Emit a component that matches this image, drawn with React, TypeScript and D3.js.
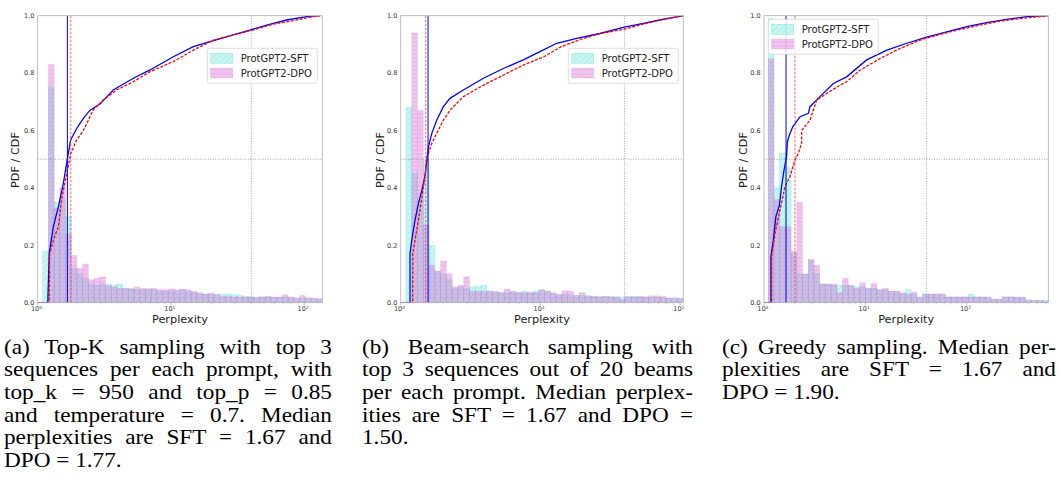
import React from 'react';
import * as d3 from 'd3';

// ---------------- DATA ----------------
const yTicks = [0, 0.2, 0.4, 0.6, 0.8, 1.0];
const legendLabels = ['ProtGPT2-SFT', 'ProtGPT2-DPO'];
const refPerplexity = 40;
const refCdf = 0.5;

// Panel (a) Top-K
const xMaxA = 136.4;
const binLoA = 1.09;
const sftHistA = [0.18, 0.75, 0.35, 0.36, 0.30, 0.12, 0.10, 0.085, 0.065, 0.06, 0.065, 0.065, 0.06, 0.065, 0.05, 0.05, 0.045, 0.045, 0.045, 0.045, 0.04, 0.04, 0.04, 0.04, 0.045, 0.04, 0.035, 0.03, 0.03, 0.028, 0.025, 0.028, 0.03, 0.028, 0.025, 0.022, 0.02, 0.02, 0.02, 0.02, 0.018, 0.018, 0.02, 0.015, 0.017, 0.015, 0.015, 0.015, 0.012];
const dpoHistA = [0, 0.83, 0.33, 0.40, 0.24, 0.165, 0.12, 0.135, 0.08, 0.085, 0.09, 0.06, 0.055, 0.05, 0.05, 0.048, 0.055, 0.05, 0.05, 0.05, 0.045, 0.045, 0.048, 0.045, 0.047, 0.045, 0.04, 0.035, 0.03, 0.033, 0.03, 0.022, 0.022, 0.02, 0.02, 0.02, 0.02, 0.018, 0.02, 0.022, 0.02, 0.02, 0.028, 0.02, 0.015, 0.025, 0.018, 0.015, 0.015];
const sftCdfA: [number, number][] = [[1, 0], [1.19, 0], [1.22, 0.17], [1.31, 0.265], [1.43, 0.335], [1.557, 0.416], [1.68, 0.509], [1.767, 0.567], [1.96, 0.607], [2.2, 0.642], [2.47, 0.671], [2.93, 0.692], [3.69, 0.741], [5.22, 0.782], [6.96, 0.811], [10.4, 0.857], [14.7, 0.892], [18.5, 0.906], [29.3, 0.933], [39.1, 0.95], [52.2, 0.967], [73.7, 0.985], [104, 0.997], [131, 1.0]];
const dpoCdfA: [number, number][] = [[1, 0], [1.22, 0], [1.23, 0.17], [1.31, 0.218], [1.43, 0.265], [1.51, 0.358], [1.65, 0.45], [1.77, 0.52], [1.96, 0.567], [2.2, 0.6], [2.4, 0.636], [2.6, 0.671], [3.1, 0.706], [3.9, 0.741], [5.22, 0.77], [6.96, 0.805], [10.4, 0.84], [14.7, 0.88], [20.8, 0.915], [29.3, 0.933], [41, 0.95], [58.6, 0.971], [83, 0.983], [117, 0.997], [134, 1.0]];
const medianSftA = 1.67;
const medianDpoA = 1.77;

// Panel (b) Beam search
const xMaxB = 105.6;
const binLoB = 1.09;
const sftHistB = [0.68, 0.45, 0.36, 0.50, 0.20, 0.11, 0.10, 0.08, 0.05, 0.055, 0.05, 0.055, 0.056, 0.06, 0.04, 0.035, 0.035, 0.035, 0.038, 0.035, 0.04, 0.035, 0.04, 0.045, 0.04, 0.03, 0.028, 0.028, 0.025, 0.026, 0.025, 0.025, 0.023, 0.022, 0.022, 0.022, 0.02, 0.02, 0.022, 0.022, 0.02, 0.02, 0.018, 0.018, 0.017, 0.016, 0.017, 0.016];
const dpoHistB = [0, 0.94, 0.67, 0.27, 0.13, 0.11, 0.145, 0.10, 0.055, 0.06, 0.09, 0.04, 0.04, 0.04, 0.04, 0.04, 0.035, 0.048, 0.04, 0.035, 0.035, 0.035, 0.035, 0.045, 0.04, 0.035, 0.028, 0.042, 0.04, 0.025, 0.035, 0.022, 0.022, 0.02, 0.022, 0.02, 0.02, 0.012, 0.02, 0.02, 0.022, 0.02, 0.024, 0.024, 0.022, 0.016, 0.015, 0.014];
const sftCdfB: [number, number][] = [[1, 0], [1.166, 0], [1.166, 0.17], [1.2, 0.218], [1.266, 0.288], [1.34, 0.346], [1.41, 0.387], [1.49, 0.439], [1.58, 0.543], [1.67, 0.59], [1.81, 0.636], [2.02, 0.683], [2.255, 0.712], [2.81, 0.741], [3.91, 0.782], [5.43, 0.816], [7.55, 0.846], [9.94, 0.875], [13.1, 0.904], [18.2, 0.921], [26.7, 0.938], [39.2, 0.959], [54.6, 0.973], [71.8, 0.985], [105.6, 1.0]];
const dpoCdfB: [number, number][] = [[1, 0], [1.219, 0], [1.22, 0.17], [1.266, 0.218], [1.34, 0.288], [1.41, 0.358], [1.49, 0.44], [1.55, 0.51], [1.67, 0.555], [1.81, 0.59], [2.02, 0.636], [2.255, 0.671], [2.81, 0.718], [3.91, 0.758], [5.43, 0.793], [7.55, 0.828], [10.6, 0.857], [14.1, 0.892], [19.6, 0.918], [26.8, 0.938], [39.2, 0.952], [54.6, 0.971], [75, 0.987], [105.6, 1.0]];
const medianSftB = 1.57;
const medianDpoB = 1.51;

// Panel (c) Greedy
const xMaxC = 638;
const binLoC = 1.1;
const sftHistC = [0.99, 0.40, 0.52, 0.47, 0.17, 0.10, 0.10, 0.15, 0.10, 0.065, 0.065, 0.06, 0.06, 0.06, 0.06, 0.055, 0.055, 0.05, 0.05, 0.045, 0.045, 0.04, 0.04, 0.03, 0.045, 0.03, 0.02, 0.03, 0.03, 0.03, 0.025, 0.02, 0.02, 0.02, 0.02, 0.03, 0.02, 0.02, 0.02, 0.012, 0.012, 0.02, 0.02, 0.02, 0.015, 0.01, 0.008, 0.008, 0.008];
const dpoHistC = [0.85, 0.36, 0.265, 0.265, 0.18, 0.35, 0.10, 0.15, 0.13, 0.065, 0.065, 0.065, 0.035, 0.085, 0.06, 0.05, 0.07, 0.05, 0.067, 0.045, 0.05, 0.04, 0.04, 0.035, 0.03, 0.037, 0.018, 0.03, 0.03, 0.03, 0.031, 0.02, 0.02, 0.02, 0.02, 0.02, 0.02, 0.02, 0.018, 0.012, 0.012, 0.02, 0.02, 0.018, 0.02, 0.008, 0.008, 0.008, 0.005];
const sftCdfC: [number, number][] = [[1, 0], [1.17, 0], [1.17, 0.16], [1.236, 0.218], [1.31, 0.3], [1.42, 0.34], [1.49, 0.404], [1.575, 0.462], [1.67, 0.509], [1.7, 0.56], [1.78, 0.584], [1.92, 0.613], [2.27, 0.648], [2.74, 0.66], [2.84, 0.683], [3.57, 0.718], [4.83, 0.764], [6.54, 0.787], [10.3, 0.846], [16.3, 0.88], [25.6, 0.904], [40.3, 0.925], [63.5, 0.944], [100, 0.962], [157, 0.976], [248, 0.987], [391, 0.997], [638, 1.0]];
const dpoCdfC: [number, number][] = [[1, 0], [1.19, 0], [1.19, 0.16], [1.284, 0.242], [1.44, 0.323], [1.61, 0.404], [1.805, 0.44], [2.02, 0.497], [2.18, 0.52], [2.35, 0.555], [2.35, 0.6], [2.84, 0.636], [3.31, 0.706], [4.16, 0.729], [5.62, 0.758], [6.54, 0.77], [8.85, 0.81], [13.96, 0.851], [22, 0.886], [34.6, 0.915], [54.6, 0.935], [85.9, 0.952], [135, 0.967], [213, 0.981], [336, 0.99], [638, 1.0]];
const medianSftC = 1.65;
const medianDpoC = 2.02;

// Captions (line by line, as typeset)
const captionA = ['(a) Top-K sampling with top 3', 'sequences per each prompt, with', 'top_k = 950 and top_p = 0.85', 'and temperature = 0.7. Median', 'perplexities are SFT = 1.67 and', 'DPO = 1.77.'];
const captionB = ['(b) Beam-search sampling with', 'top 3 sequences out of 20 beams', 'per each prompt. Median perplex-', 'ities are SFT = 1.67 and DPO =', '1.50.'];
const captionC = ['(c) Greedy sampling. Median per-', 'plexities are SFT = 1.67 and', 'DPO = 1.90.'];

// ---------------- LAYOUT ----------------
const W = 1060;
const H = 491;
const TOP = 15.7;
const BOTTOM = 302.7;

const panels = [
  { left: 37.7, right: 322.3, xMax: xMaxA, binLo: binLoA, sft: sftHistA, dpo: dpoHistA, sftCdf: sftCdfA, dpoCdf: dpoCdfA, medS: medianSftA, medD: medianDpoA, legend: { x: 207.3, y: 48.3 }, ylabX: 15, caption: captionA, capX: 4, capW: 328 },
  { left: 400.7, right: 683.3, xMax: xMaxB, binLo: binLoB, sft: sftHistB, dpo: dpoHistB, sftCdf: sftCdfB, dpoCdf: dpoCdfB, medS: medianSftB, medD: medianDpoB, legend: { x: 568.3, y: 48.3 }, ylabX: 380, caption: captionB, capX: 362, capW: 331 },
  { left: 764, right: 1048.3, xMax: xMaxC, binLo: binLoC, sft: sftHistC, dpo: dpoHistC, sftCdf: sftCdfC, dpoCdf: dpoCdfC, medS: medianSftC, medD: medianDpoC, legend: { x: 768.3, y: 19.3 }, ylabX: 743, caption: captionC, capX: 722, capW: 334 },
];

const SFT_COLOR = 'rgb(64,224,208)';
const DPO_COLOR = 'rgb(218,112,214)';
const FONT = 'DejaVu Sans, sans-serif';

function Panel({ p, idx }: { p: typeof panels[0]; idx: number }) {
  const x = d3.scaleLog().domain([1, p.xMax]).range([p.left, p.right]);
  const y = d3.scaleLinear().domain([0, 1]).range([BOTTOM, TOP]);
  const n = p.sft.length;
  const lo = Math.log10(p.binLo);
  const hi = Math.log10(p.xMax);
  const edges = d3.range(n + 1).map((i) => Math.pow(10, lo + (i * (hi - lo)) / n));
  const line = d3.line<[number, number]>().x((d) => x(d[0])).y((d) => y(d[1]));

  const majors = [];
  for (let e = 0; Math.pow(10, e) <= p.xMax; e++) majors.push(e);
  const minors: number[] = [];
  for (let e = 0; Math.pow(10, e) <= p.xMax; e++) {
    for (let m = 2; m <= 9; m++) {
      const v = m * Math.pow(10, e);
      if (v < p.xMax) minors.push(v);
    }
  }
  const clipId = `clip${idx}`;
  const bars = (vals: number[], fill: string, op: number, hatch: string, stroke: string, dash?: string) =>
    vals.map((v, i) => {
      if (v <= 0) return null;
      const x0 = x(edges[i]);
      const x1 = x(edges[i + 1]);
      const yy = y(v);
      return (
        <g key={i}>
          <rect x={x0} y={yy} width={x1 - x0} height={BOTTOM - yy} fill={fill} fillOpacity={op} />
          <rect x={x0} y={yy} width={x1 - x0} height={BOTTOM - yy} fill={`url(#${hatch})`} stroke={stroke} strokeOpacity={0.45} strokeWidth={0.5} strokeDasharray={dash} />
        </g>
      );
    });
  const lg = p.legend;
  return (
    <g>
      <defs>
        <clipPath id={clipId}>
          <rect x={p.left} y={TOP} width={p.right - p.left} height={BOTTOM - TOP} />
        </clipPath>
      </defs>
      <g clipPath={`url(#${clipId})`}>
        {bars(p.sft, SFT_COLOR, 0.3, 'hatchSft', SFT_COLOR)}
        {bars(p.dpo, DPO_COLOR, 0.4, 'hatchDpo', DPO_COLOR, '2,1')}
        <line x1={p.left} x2={p.right} y1={y(refCdf)} y2={y(refCdf)} stroke="#888" strokeWidth={0.8} strokeDasharray="1,1.5" />
        <line x1={x(refPerplexity)} x2={x(refPerplexity)} y1={TOP} y2={BOTTOM} stroke="#888" strokeWidth={0.8} strokeDasharray="1,1.5" />
        <path d={line(p.sftCdf) || ''} fill="none" stroke="#0000ff" strokeWidth={1.3} />
        <path d={line(p.dpoCdf) || ''} fill="none" stroke="#ff0000" strokeWidth={1.3} strokeDasharray="3,1.5" />
        <line x1={x(p.medS)} x2={x(p.medS)} y1={TOP} y2={BOTTOM} stroke="#0000ff" strokeWidth={1} />
        <line x1={x(p.medD)} x2={x(p.medD)} y1={TOP} y2={BOTTOM} stroke="#ff3030" strokeWidth={1} strokeOpacity={0.75} strokeDasharray="2.5,1.5" />
      </g>
      <rect x={p.left} y={TOP} width={p.right - p.left} height={BOTTOM - TOP} fill="none" stroke="#b0b0b0" strokeWidth={0.8} />
      {yTicks.map((t) => (
        <text key={t} x={p.left - 3.4} y={y(t) + 2.2} textAnchor="end" fontFamily={FONT} fontSize={6.5} fill="#333">
          {t.toFixed(1)}
        </text>
      ))}
      {majors.map((e) => (
        <g key={e}>
          <line x1={x(Math.pow(10, e))} x2={x(Math.pow(10, e))} y1={BOTTOM} y2={BOTTOM + 3} stroke="#999" strokeWidth={0.6} />
          <text x={x(Math.pow(10, e)) - 1.2} y={BOTTOM + 8.6} textAnchor="middle" fontFamily={FONT} fontSize={6.5} fill="#333">
            10
            <tspan fontSize={4.4} dy={-2.4}>
              {e}
            </tspan>
          </text>
        </g>
      ))}
      {minors.map((v) => (
        <line key={v} x1={x(v)} x2={x(v)} y1={BOTTOM} y2={BOTTOM + 1.8} stroke="#aaa" strokeWidth={0.5} />
      ))}
      <text x={(p.left + p.right) / 2} y={322.7} textAnchor="middle" fontFamily={FONT} fontSize={11.3} fill="#222">
        Perplexity
      </text>
      <text transform={`translate(${p.ylabX + 4},${160}) rotate(-90)`} textAnchor="middle" fontFamily={FONT} fontSize={11.3} fill="#222">
        PDF / CDF
      </text>
      <g>
        <rect x={lg.x} y={lg.y} width={110} height={35} rx={2} fill="#fff" fillOpacity={0.85} stroke="#d0d0d0" strokeWidth={0.7} />
        <rect x={lg.x + 3.4} y={lg.y + 5} width={22} height={10} fill={SFT_COLOR} fillOpacity={0.3} />
        <rect x={lg.x + 3.4} y={lg.y + 5} width={22} height={10} fill="url(#hatchSft)" stroke={SFT_COLOR} strokeOpacity={0.45} strokeWidth={0.6} />
        <rect x={lg.x + 3.4} y={lg.y + 20} width={22} height={9.5} fill={DPO_COLOR} fillOpacity={0.4} />
        <rect x={lg.x + 3.4} y={lg.y + 20} width={22} height={9.5} fill="url(#hatchDpo)" stroke={DPO_COLOR} strokeOpacity={0.6} strokeWidth={0.7} strokeDasharray="2,1" />
        <text x={lg.x + 33.4} y={lg.y + 13.5} fontFamily={FONT} fontSize={10} fill="#222">
          {legendLabels[0]}
        </text>
        <text x={lg.x + 33.4} y={lg.y + 28.3} fontFamily={FONT} fontSize={10} fill="#222">
          {legendLabels[1]}
        </text>
      </g>
    </g>
  );
}

const CAP_SCALE = 1.15;

export default function App() {
  return (
    <div style={{ position: 'absolute', left: 0, top: 0, width: W, height: H, background: '#fff', overflow: 'hidden' }}>
      <svg width={W} height={H} style={{ position: 'absolute', left: 0, top: 0 }}>
        <defs>
          <pattern id="hatchSft" patternUnits="userSpaceOnUse" width={6} height={6}>
            <path d="M-1,1 l2,-2 M0,6 l6,-6 M5,7 l2,-2" stroke="rgb(40,190,180)" strokeWidth={0.5} strokeOpacity={0.35} />
          </pattern>
          <pattern id="hatchDpo" patternUnits="userSpaceOnUse" width={4} height={4}>
            <path d="M0,2 h4" stroke="rgb(190,80,190)" strokeWidth={0.5} strokeOpacity={0.35} />
          </pattern>
        </defs>
        {panels.map((p, i) => (
          <Panel key={i} p={p} idx={i} />
        ))}
      </svg>
      {panels.map((p, i) => (
        <div
          key={i}
          style={{
            position: 'absolute',
            left: p.capX,
            top: 335.5,
            width: p.capW / CAP_SCALE,
            transform: `scaleX(${CAP_SCALE})`,
            transformOrigin: '0 0',
            fontFamily: '"Liberation Serif", "Times New Roman", serif',
            fontSize: 20.2,
            lineHeight: '22.7px',
            color: '#000',
          }}
        >
          {p.caption.map((l, j) => (
            <div
              key={j}
              style={{
                whiteSpace: 'nowrap',
                textAlign: 'justify',
                textAlignLast: j < p.caption.length - 1 ? 'justify' : 'left',
              } as React.CSSProperties}
            >
              {l}
            </div>
          ))}
        </div>
      ))}
    </div>
  );
}
